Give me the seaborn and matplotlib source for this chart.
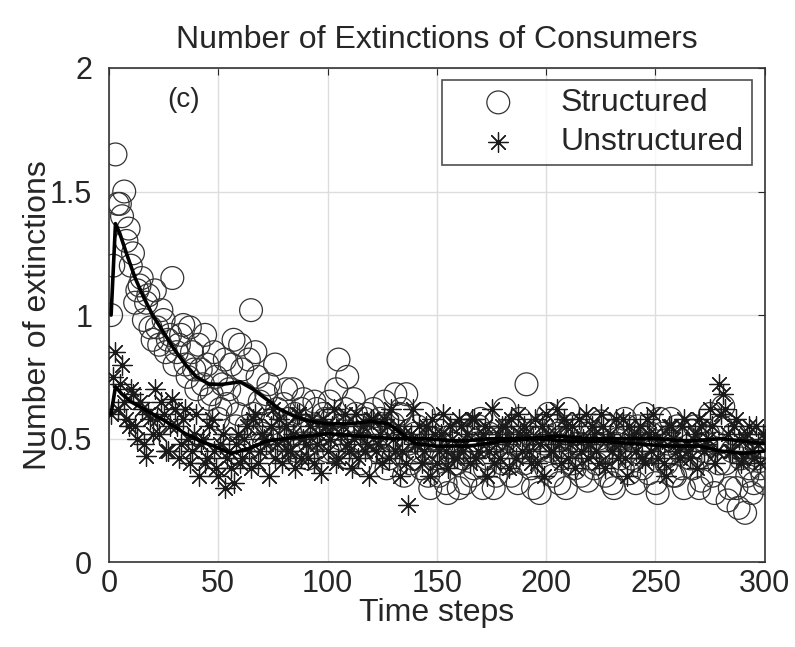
import matplotlib
matplotlib.use('Agg')
import matplotlib.pyplot as plt
import seaborn as sns
import pandas as pd
import numpy as np

# odd and even time steps
odd_steps = list(range(1, 300, 2))
even_steps = list(range(2, 301, 2))

structured_odd = [
    1.00, 1.65, 1.45, 1.50, 1.35, 1.25, 1.10, 1.15, 1.05, 0.95,
    1.10, 0.88, 0.98, 0.90, 1.15, 0.85, 0.92, 0.80, 0.95, 0.78,
    0.88, 0.72, 0.80, 0.68, 0.75, 0.62, 0.82, 0.70, 0.90, 0.60,
    0.78, 0.55, 1.02, 0.85, 0.65, 0.48, 0.72, 0.58, 0.62, 0.45,
    0.70, 0.52, 0.60, 0.48, 0.66, 0.42, 0.55, 0.62, 0.50, 0.58,
    0.65, 0.45, 0.82, 0.55, 0.75, 0.48, 0.60, 0.40, 0.58, 0.52,
    0.62, 0.45, 0.55, 0.38, 0.50, 0.68, 0.60, 0.35, 0.48, 0.42,
    0.55, 0.38, 0.45, 0.30, 0.50, 0.35, 0.42, 0.28, 0.48, 0.40,
    0.52, 0.32, 0.45, 0.38, 0.55, 0.30, 0.42, 0.48, 0.35, 0.50,
    0.62, 0.40, 0.55, 0.32, 0.45, 0.72, 0.38, 0.50, 0.28, 0.48,
    0.60, 0.35, 0.52, 0.42, 0.30, 0.55, 0.38, 0.48, 0.45, 0.33,
    0.52, 0.40, 0.57, 0.35, 0.45, 0.30, 0.50, 0.38, 0.55, 0.42,
    0.32, 0.48, 0.60, 0.36, 0.45, 0.28, 0.52, 0.40, 0.58, 0.35,
    0.45, 0.30, 0.50, 0.38, 0.42, 0.33, 0.48, 0.60, 0.28, 0.40,
    0.63, 0.25, 0.45, 0.30, 0.42, 0.20, 0.38, 0.32, 0.45, 0.35,
]
structured_even = [
    1.20, 1.45, 1.40, 1.30, 1.20, 1.05, 1.12, 0.98, 1.08, 0.90,
    0.95, 1.02, 0.85, 0.92, 0.80, 0.88, 0.96, 0.75, 0.85, 0.70,
    0.78, 0.92, 0.66, 0.85, 0.58, 0.72, 0.64, 0.80, 0.55, 0.88,
    0.68, 0.82, 0.60, 0.75, 0.52, 0.68, 0.56, 0.80, 0.50, 0.64,
    0.58, 0.70, 0.45, 0.62, 0.55, 0.48, 0.65, 0.52, 0.60, 0.45,
    0.58, 0.70, 0.50, 0.62, 0.42, 0.66, 0.55, 0.48, 0.60, 0.52,
    0.50, 0.58, 0.65, 0.42, 0.56, 0.48, 0.62, 0.68, 0.40, 0.52,
    0.45, 0.60, 0.35, 0.50, 0.42, 0.55, 0.32, 0.45, 0.52, 0.30,
    0.42, 0.55, 0.35, 0.48, 0.58, 0.38, 0.52, 0.30, 0.45, 0.40,
    0.50, 0.35, 0.48, 0.58, 0.40, 0.52, 0.30, 0.45, 0.55, 0.38,
    0.45, 0.55, 0.32, 0.50, 0.62, 0.40, 0.48, 0.35, 0.52, 0.42,
    0.38, 0.50, 0.45, 0.55, 0.32, 0.48, 0.42, 0.58, 0.36, 0.50,
    0.55, 0.38, 0.45, 0.52, 0.32, 0.58, 0.42, 0.48, 0.35, 0.55,
    0.38, 0.50, 0.42, 0.55, 0.30, 0.45, 0.52, 0.35, 0.48, 0.55,
    0.40, 0.30, 0.52, 0.22, 0.45, 0.35, 0.28, 0.42, 0.38, 0.32,
]

unstructured_odd = [
    0.60, 0.85, 0.72, 0.65, 0.55, 0.68, 0.50, 0.62, 0.43, 0.58,
    0.70, 0.52, 0.60, 0.45, 0.66, 0.55, 0.48, 0.62, 0.40, 0.52,
    0.35, 0.50, 0.42, 0.58, 0.38, 0.48, 0.30, 0.45, 0.32, 0.52,
    0.42, 0.55, 0.38, 0.60, 0.45, 0.50, 0.35, 0.62, 0.48, 0.40,
    0.55, 0.45, 0.38, 0.60, 0.50, 0.42, 0.58, 0.48, 0.36, 0.55,
    0.50, 0.62, 0.42, 0.55, 0.48, 0.38, 0.60, 0.52, 0.45, 0.35,
    0.58, 0.48, 0.40, 0.55, 0.62, 0.45, 0.35, 0.52, 0.23, 0.62,
    0.48, 0.40, 0.55, 0.35, 0.52, 0.45, 0.60, 0.38, 0.50, 0.42,
    0.55, 0.48, 0.40, 0.58, 0.45, 0.52, 0.35, 0.62, 0.48, 0.42,
    0.55, 0.38, 0.50, 0.60, 0.45, 0.52, 0.40, 0.58, 0.48, 0.35,
    0.52, 0.45, 0.62, 0.40, 0.55, 0.48, 0.38, 0.58, 0.50, 0.42,
    0.55, 0.45, 0.60, 0.38, 0.52, 0.48, 0.42, 0.58, 0.35, 0.50,
    0.45, 0.55, 0.40, 0.52, 0.60, 0.42, 0.50, 0.35, 0.55, 0.48,
    0.42, 0.58, 0.45, 0.50, 0.38, 0.55, 0.48, 0.62, 0.40, 0.72,
    0.68, 0.52, 0.45, 0.58, 0.40, 0.50, 0.55, 0.42, 0.48, 0.52,
]
unstructured_even = [
    0.75, 0.62, 0.80, 0.58, 0.70, 0.55, 0.65, 0.48, 0.60, 0.52,
    0.58, 0.65, 0.45, 0.55, 0.62, 0.42, 0.58, 0.50, 0.45, 0.60,
    0.48, 0.40, 0.55, 0.45, 0.35, 0.52, 0.42, 0.38, 0.48, 0.40,
    0.50, 0.45, 0.58, 0.40, 0.52, 0.48, 0.55, 0.42, 0.58, 0.50,
    0.45, 0.52, 0.60, 0.42, 0.48, 0.55, 0.40, 0.52, 0.58, 0.45,
    0.55, 0.40, 0.52, 0.60, 0.45, 0.50, 0.42, 0.55, 0.48, 0.58,
    0.45, 0.52, 0.58, 0.42, 0.50, 0.55, 0.45, 0.40, 0.52, 0.48,
    0.55, 0.45, 0.50, 0.58, 0.40, 0.52, 0.45, 0.55, 0.42, 0.58,
    0.45, 0.52, 0.58, 0.42, 0.50, 0.55, 0.45, 0.40, 0.52, 0.55,
    0.48, 0.58, 0.42, 0.52, 0.55, 0.45, 0.50, 0.40, 0.55, 0.60,
    0.45, 0.52, 0.48, 0.58, 0.42, 0.55, 0.50, 0.45, 0.60, 0.48,
    0.52, 0.40, 0.55, 0.50, 0.45, 0.58, 0.48, 0.42, 0.55, 0.52,
    0.50, 0.42, 0.58, 0.45, 0.52, 0.48, 0.40, 0.55, 0.50, 0.45,
    0.55, 0.48, 0.42, 0.52, 0.58, 0.45, 0.50, 0.55, 0.45, 0.60,
    0.62, 0.45, 0.55, 0.50, 0.42, 0.52, 0.45, 0.55, 0.40, 0.50,
]

# smoothed trend lines
trend_t_s = [1, 3, 5, 8, 12, 16, 20, 25, 30, 35, 40, 46, 52, 60, 66, 72, 78,
             85, 92, 100, 110, 120, 128, 134, 140, 150, 165, 180, 195, 210,
             225, 240, 255, 270, 280, 290, 300]
trend_structured = [1.00, 1.37, 1.33, 1.25, 1.15, 1.07, 1.00, 0.93, 0.86, 0.80,
                    0.75, 0.72, 0.72, 0.73, 0.70, 0.66, 0.62, 0.59, 0.57, 0.56,
                    0.56, 0.57, 0.56, 0.52, 0.48, 0.47, 0.47, 0.49, 0.50, 0.49,
                    0.49, 0.48, 0.47, 0.47, 0.45, 0.44, 0.45]

trend_t_u = [1, 3, 6, 10, 16, 22, 28, 35, 42, 48, 56, 64, 72, 80, 90, 100,
             115, 130, 145, 160, 175, 190, 205, 220, 235, 250, 265, 280, 290, 300]
trend_unstructured = [0.60, 0.71, 0.68, 0.65, 0.62, 0.59, 0.56, 0.52, 0.49, 0.47,
                      0.44, 0.46, 0.49, 0.50, 0.51, 0.52, 0.51, 0.50, 0.50, 0.49,
                      0.50, 0.50, 0.51, 0.50, 0.50, 0.50, 0.49, 0.50, 0.49, 0.48]

df = pd.DataFrame({
    't': odd_steps + even_steps,
    'structured': structured_odd + structured_even,
    'unstructured': unstructured_odd + unstructured_even,
})

sns.set_style('white')
plt.rcParams['font.family'] = ['Liberation Sans', 'DejaVu Sans']
plt.rcParams.update({
    'xtick.direction': 'in',
    'ytick.direction': 'in',
    'xtick.top': True,
    'ytick.right': True,
    'xtick.major.size': 5,
    'ytick.major.size': 5,
})

fig = plt.figure(figsize=(7.95, 6.47), dpi=100)
ax = fig.add_axes([0.137, 0.131, 0.825, 0.764])

sns.scatterplot(data=df, x='t', y='structured', marker='o', s=270,
                facecolor='none', edgecolor='#333333', linewidth=0.9,
                label='Structured', ax=ax, zorder=3)
sns.scatterplot(data=df, x='t', y='unstructured', marker=(8, 2, 0), s=200,
                color='#1a1a1a', linewidth=0.9, label='Unstructured', ax=ax,
                zorder=3)
sns.lineplot(x=trend_t_s, y=trend_structured, color='black', linewidth=2.6,
             ax=ax, zorder=4)
sns.lineplot(x=trend_t_u, y=trend_unstructured, color='black', linewidth=2.6,
             ax=ax, zorder=4)

ax.set_xlim(0, 300)
ax.set_ylim(0, 2)
ax.set_xticks([0, 50, 100, 150, 200, 250, 300])
ax.set_yticks([0, 0.5, 1, 1.5, 2])
ax.set_yticklabels(['0', '0.5', '1', '1.5', '2'])
ax.tick_params(axis='x', labelsize=22, pad=5)
ax.tick_params(axis='y', labelsize=22, pad=12)
ax.grid(True, color='#dddddd', linewidth=1.0)
for sp in ax.spines.values():
    sp.set_color('#333333')
    sp.set_linewidth(1.2)

ax.set_title('Number of Extinctions of Consumers', fontsize=23, pad=14)
ax.set_xlabel('Time steps', fontsize=23, labelpad=-1)
ax.set_ylabel('Number of extinctions', fontsize=23, labelpad=-2)
ax.text(34, 1.87, '(c)', fontsize=20, ha='center', va='center')

leg = ax.legend(loc='upper right', fontsize=23, frameon=True, fancybox=False,
                borderpad=0.25, borderaxespad=0, handletextpad=0.45,
                handlelength=3.0, labelspacing=0.3,
                bbox_to_anchor=(0.98, 0.976))
leg.get_frame().set_edgecolor('#222222')
leg.get_frame().set_linewidth(1.2)

plt.savefig('out.png', dpi=100)
plt.close()
